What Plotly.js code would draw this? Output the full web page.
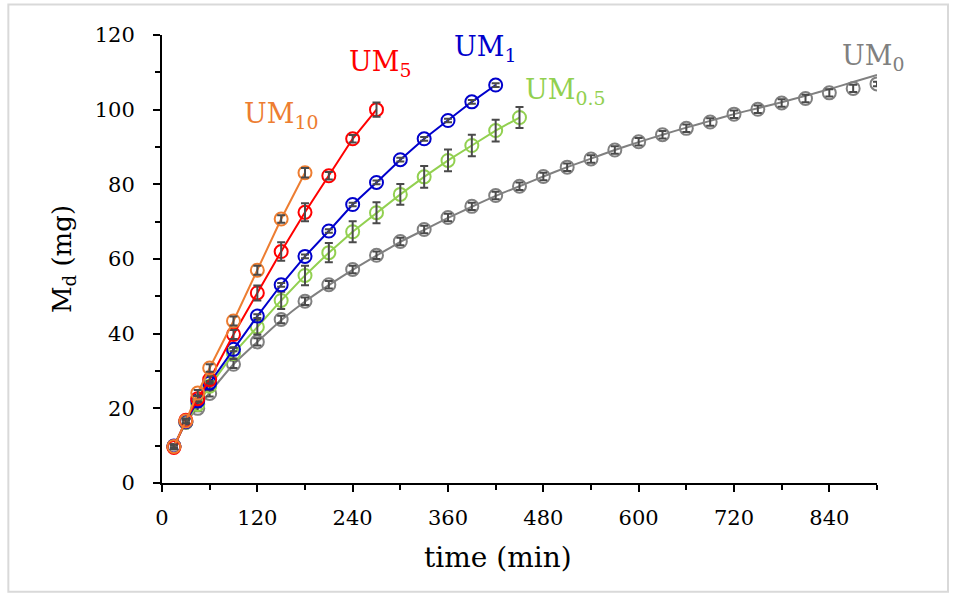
<!DOCTYPE html>
<html>
<head>
<meta charset="utf-8">
<script src="https://cdn.plot.ly/plotly-3.0.1.min.js"></script>
<style>
  html, body { margin: 0; padding: 0; background: #fff; }
  #chart { width: 954px; height: 596px; }
</style>
</head>
<body>
<div id="chart"></div>
<script>
// Sampling times (min)
const tShort = [15, 30, 45, 60, 90, 120, 150, 180];
const tUM5 = [15, 30, 45, 60, 90, 120, 150, 180, 210, 240, 270];
const tUM1 = [15, 30, 45, 60, 90, 120, 150, 180, 210, 240, 270, 300, 330, 360, 390, 420];
const tUM05 = [15, 30, 45, 60, 90, 120, 150, 180, 210, 240, 270, 300, 330, 360, 390, 420, 450];
const tUM0 = [15, 30, 45, 60, 90, 120, 150, 180, 210, 240, 270, 300, 330, 360, 390, 420, 450,
              480, 510, 540, 570, 600, 630, 660, 690, 720, 750, 780, 810, 840, 870, 900];

// Released mass Md (mg) and standard deviations
const um0 = [9.8, 16.2, 20.0, 24.0, 31.8, 37.8, 43.8, 48.7, 53.1, 57.2, 61.0, 64.7, 67.9, 71.1, 74.1, 77.0, 79.5,
             82.1, 84.6, 86.8, 89.2, 91.4, 93.3, 95.0, 96.7, 98.8, 100.1, 101.8, 103.0, 104.5, 105.7, 106.9];
const um0Err = [0.6, 0.6, 0.8, 0.8, 1.0, 1.0, 1.0, 1.0, 1.0, 1.0, 1.0, 1.0, 1.0, 1.0, 1.0, 1.0, 1.0,
                1.0, 1.0, 1.0, 1.0, 1.0, 1.0, 1.0, 1.0, 1.0, 1.0, 1.0, 1.0, 1.0, 1.0, 0.6];
const um0Fit = [9.8, 16.2, 20.2, 24.2, 31.8, 37.8, 43.6, 48.6, 53.0, 57.1, 60.9, 64.6, 67.8, 71.0, 74.0, 76.9, 79.5,
                82.1, 84.6, 86.9, 89.2, 91.3, 93.3, 95.2, 97.0, 98.8, 100.4, 102.0, 103.7, 105.5, 107.4, 109.3];

const um05 = [9.8, 16.3, 21.0, 25.9, 34.7, 41.8, 48.9, 55.6, 61.7, 67.3, 72.4, 77.3, 82.0, 86.4, 90.4, 94.4, 97.9];
const um05Err = [0.5, 0.5, 0.8, 1.0, 1.5, 2.0, 2.3, 2.6, 2.6, 2.8, 2.8, 2.8, 2.9, 2.9, 2.9, 2.9, 2.8];

const um1 = [9.9, 16.4, 22.0, 26.8, 35.8, 44.7, 53.1, 60.7, 67.5, 74.6, 80.5, 86.6, 92.2, 97.1, 102.1, 106.6];
const um1Err = [0.4, 0.4, 0.5, 0.5, 0.5, 0.5, 0.5, 0.5, 0.5, 0.5, 0.5, 0.5, 0.5, 0.5, 0.5, 0.5];

const um5 = [9.5, 16.8, 22.6, 27.7, 39.8, 50.9, 62.0, 72.5, 82.3, 92.2, 100.0];
const um5Err = [0.5, 0.5, 0.8, 1.0, 1.2, 2.0, 2.5, 2.4, 1.0, 1.0, 1.9];

const um10 = [9.8, 16.6, 24.1, 30.8, 43.4, 57.0, 70.7, 83.1];
const um10Err = [0.5, 0.6, 0.8, 1.0, 1.2, 1.2, 1.0, 1.3];

const seriesNames = ['UM<sub>0</sub>', 'UM<sub>0.5</sub>', 'UM<sub>1</sub>', 'UM<sub>5</sub>', 'UM<sub>10</sub>'];
const seriesColors = ['#808080', '#92D050', '#0000CC', '#FF0000', '#ED7D31'];

const serif = 'DejaVu Serif, Liberation Serif, serif';
const errColor = '#4a4a4a';

function errTrace(x, y, e) {
  return {
    x: x, y: y, type: 'scatter', mode: 'markers', showlegend: false, hoverinfo: 'skip',
    marker: { size: 2, opacity: 0 },
    error_y: { type: 'data', array: e, visible: true, color: errColor, thickness: 2, width: 4 }
  };
}

function openCircles(color) {
  return { symbol: 'circle-open', size: 13, color: color, line: { width: 2, color: color } };
}

const traces = [
  // UM0: fitted curve plus measured points
  { x: tUM0, y: um0Fit, type: 'scatter', mode: 'lines', name: 'UM0 fit', showlegend: false,
    line: { color: seriesColors[0], width: 2, shape: 'spline', smoothing: 0.6 } },
  { x: tUM0, y: um0, type: 'scatter', mode: 'markers', name: 'UM0', showlegend: false,
    marker: openCircles(seriesColors[0]) },
  errTrace(tUM0, um0, um0Err),

  { x: tUM05, y: um05, type: 'scatter', mode: 'lines+markers', name: 'UM0.5', showlegend: false,
    line: { color: seriesColors[1], width: 2 }, marker: openCircles(seriesColors[1]) },
  errTrace(tUM05, um05, um05Err),

  { x: tUM1, y: um1, type: 'scatter', mode: 'lines+markers', name: 'UM1', showlegend: false,
    line: { color: seriesColors[2], width: 2 }, marker: openCircles(seriesColors[2]) },
  errTrace(tUM1, um1, um1Err),

  { x: tUM5, y: um5, type: 'scatter', mode: 'lines+markers', name: 'UM5', showlegend: false,
    line: { color: seriesColors[3], width: 2 }, marker: openCircles(seriesColors[3]) },
  errTrace(tUM5, um5, um5Err),

  { x: tShort, y: um10, type: 'scatter', mode: 'lines+markers', name: 'UM10', showlegend: false,
    line: { color: seriesColors[4], width: 2 }, marker: openCircles(seriesColors[4]) },
  errTrace(tShort, um10, um10Err)
];

// Series labels placed next to the end of each curve
const labelPos = [
  { x: 895, y: 114 },
  { x: 507, y: 105 },
  { x: 406, y: 116.5 },
  { x: 274, y: 112.5 },
  { x: 150, y: 98.5 }
];
const annotations = seriesNames.map((name, i) => ({
  x: labelPos[i].x, y: labelPos[i].y, xref: 'x', yref: 'y',
  text: name, showarrow: false, xanchor: 'center', yanchor: 'middle',
  font: { family: serif, size: 27, color: seriesColors[i] }
}));

// x-axis title
annotations.push({
  x: 0.47, y: -0.166, xref: 'paper', yref: 'paper',
  text: 'time (min)', showarrow: false, xanchor: 'center', yanchor: 'middle',
  font: { family: serif, size: 28, color: '#000' }
});

const layout = {
  width: 954, height: 596,
  margin: { l: 162, r: 77, t: 35, b: 113 },
  paper_bgcolor: '#ffffff', plot_bgcolor: '#ffffff',
  showlegend: false,
  xaxis: {
    range: [0, 900], tick0: 0, dtick: 120,
    ticks: 'outside', ticklen: 7, tickwidth: 2, tickcolor: '#000',
    minor: { dtick: 60, ticks: 'outside', ticklen: 5, tickwidth: 2, tickcolor: '#000' },
    showline: true, linewidth: 2, linecolor: '#000',
    showgrid: false, zeroline: false,
    ticklabelstandoff: 8,
    tickfont: { family: serif, size: 21, color: '#000' }
  },
  yaxis: {
    range: [0, 120], tick0: 0, dtick: 20,
    ticks: 'outside', ticklen: 7, tickwidth: 2, tickcolor: '#000',
    minor: { dtick: 10, ticks: 'outside', ticklen: 5, tickwidth: 2, tickcolor: '#000' },
    showline: true, linewidth: 2, linecolor: '#000',
    showgrid: false, zeroline: false,
    ticklabelstandoff: 14,
    tickfont: { family: serif, size: 21, color: '#000' },
    title: { text: 'M<sub>d</sub> (mg)', font: { family: serif, size: 26, color: '#000' }, standoff: 16 }
  },
  annotations: annotations,
  shapes: [{
    type: 'rect', xref: 'paper', yref: 'paper',
    x0: -0.2149, x1: 1.0993, y0: -0.243, y1: 1.068,
    line: { color: '#d9d9d9', width: 2 }, fillcolor: 'rgba(0,0,0,0)', layer: 'below'
  }]
};

Plotly.newPlot('chart', traces, layout, { displayModeBar: false, staticPlot: true });
</script>
</body>
</html>
